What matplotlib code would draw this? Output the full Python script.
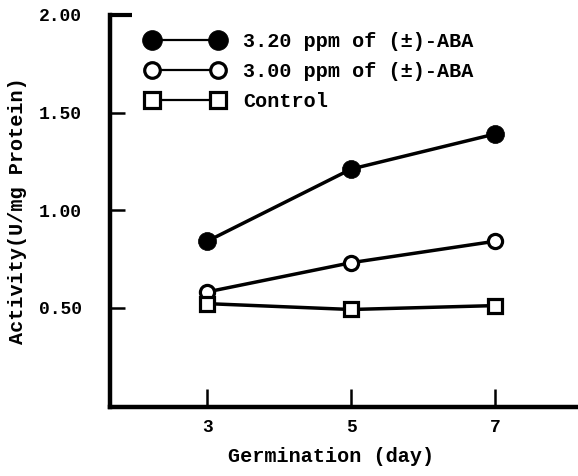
import matplotlib
matplotlib.use("Agg")
import matplotlib.pyplot as plt

days = [3, 5, 7]
aba_320 = [0.84, 1.21, 1.39]
aba_300 = [0.58, 0.73, 0.84]
control = [0.52, 0.49, 0.51]
labels = ["3.20 ppm of (\u00b1)-ABA", "3.00 ppm of (\u00b1)-ABA", "Control"]
yticks = [0.50, 1.00, 1.50, 2.00]
ytick_labels = ["0.50", "1.00", "1.50", "2.00"]

plt.rcParams['font.family'] = ['Liberation Mono', 'DejaVu Sans Mono']
plt.rcParams['font.weight'] = 'bold'
FS = 14.5
TFS = 13

fig = plt.figure(figsize=(5.78, 4.76), dpi=100)
ax = fig.add_axes([110/578, 69/476, 468/578, 392/476])

lw = 2.5
ax.plot(days, aba_320, color='black', lw=lw, marker='o', ms=13, mfc='black',
        mec='black', mew=0.5, label=labels[0], zorder=3)
ax.plot(days, aba_300, color='black', lw=lw, marker='o', ms=10.2, mfc='white',
        mec='black', mew=2.3, label=labels[1], zorder=3)
ax.plot(days, control, color='black', lw=lw, marker='s', ms=10.2, mfc='white',
        mec='black', mew=2.3, label=labels[2], zorder=3)

ax.set_xlim(1.65, 8.15)
ax.set_ylim(-0.01, 2.0)
ax.spines['top'].set_visible(False)
ax.spines['right'].set_visible(False)
ax.spines['left'].set_linewidth(3.2)
ax.spines['bottom'].set_linewidth(3.2)
ax.spines['left'].set_capstyle('projecting')
ax.spines['bottom'].set_capstyle('projecting')

ax.set_xticks(days)
ax.set_xticklabels([str(d) for d in days])
ax.set_yticks(yticks)
ax.set_yticklabels(ytick_labels)
ax.tick_params(axis='y', direction='in', length=11, width=1.8, pad=20, labelsize=TFS)
ax.tick_params(axis='x', direction='in', length=13, width=1.8, pad=9, labelsize=TFS)
ax.yaxis.get_major_ticks()[-1].tick1line.set_markersize(16)
ax.yaxis.get_major_ticks()[-1].tick1line.set_markeredgewidth(3)
for lab in ax.get_xticklabels() + ax.get_yticklabels():
    lab.set_fontweight('bold')

ax.set_xlabel("Germination (day)", fontsize=FS, fontweight='bold')
ax.xaxis.set_label_coords((331-110)/468, -(457-407)/392)
ax.xaxis.label.set_va('center')
ax.set_ylabel("Activity(U/mg Protein)", fontsize=FS, fontweight='bold')
ax.yaxis.set_label_coords(-(110-18)/468, (407-211)/392)
ax.yaxis.label.set_va('center')

leg = ax.legend(loc='upper left', bbox_to_anchor=((146-110)/468, (407-32)/392),
                frameon=False, borderpad=0, borderaxespad=0, numpoints=2,
                handlelength=3.88, handletextpad=0.95, labelspacing=0.55,
                fontsize=FS, markerscale=1.1)
for ln in leg.get_lines():
    ln.set_linewidth(1.6)
for t in leg.get_texts():
    t.set_fontweight('bold')

fig.savefig("out.png", dpi=100)
